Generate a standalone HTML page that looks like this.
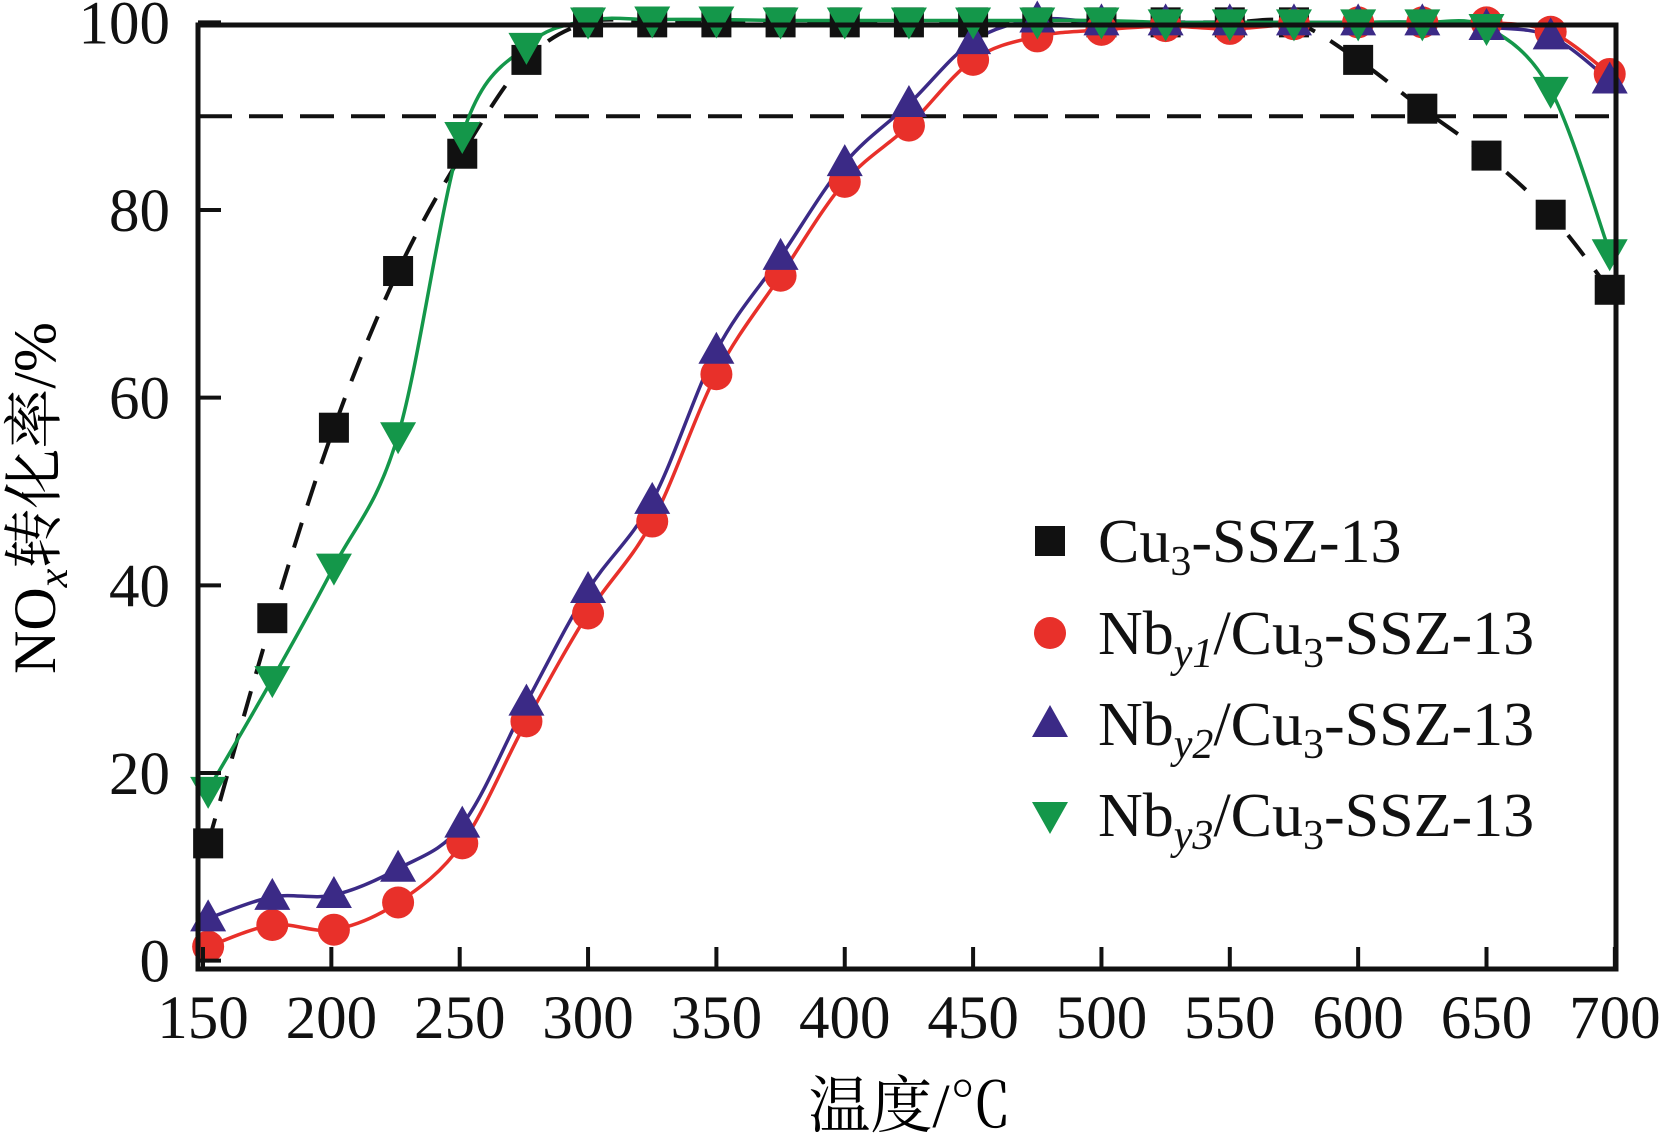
<!DOCTYPE html>
<html><head><meta charset="utf-8">
<style>
html,body{margin:0;padding:0;background:#fff;}
svg{display:block;font-family:"Liberation Serif","Noto Serif CJK SC",serif;}
</style></head>
<body>
<svg id="chart" width="1663" height="1148" viewBox="0 0 1663 1148" xmlns="http://www.w3.org/2000/svg">
<g id="plot"></g>
<g id="axes"></g>
<text x="910" y="1127" font-size="62" text-anchor="middle" font-family="'Liberation Serif','Noto Serif CJK SC',serif">温度/<tspan font-family="'Noto Serif CJK SC',serif">℃</tspan></text>
<text transform="translate(55,498) rotate(-90)" font-size="60" text-anchor="middle">NO<tspan font-style="italic" font-size="42" dy="12">x</tspan><tspan dy="-12">转化率/%</tspan></text>
<g id="legend"></g>
</svg>
<script>
const temps = [152,177,201,226,251,276,300,325,350,375,400,425,450,475,500,525,550,575,600,625,650,675,698];
const cu3 = [12.5,36.5,56.8,73.5,86,96,100,100,100,100,100,100,100,100,100,100,100,100,96,90.8,85.8,79.5,71.5];
const nb1 = [1.5,3.8,3.3,6.2,12.5,25.5,37,46.8,62.5,73,83,89,96,98.5,99.2,99.6,99.3,99.8,100,100,100,99,94.5];
const nb2 = [4.5,6.8,7,9.8,14.5,27.5,39.5,49,65,75,85,91.3,98,100.3,100,100,100,100,100,100,99.5,98.5,93.8];
const nb3 = [18.2,30,42,56,88,97.5,100.2,100.3,100.3,100.2,100.2,100.2,100.2,100.2,100.2,100,100,100,100,100,99.5,92.8,75.5];
const xTicks = [150,200,250,300,350,400,450,500,550,600,650,700];
const yTicks = [0,20,40,60,80,100];
const refLine = [90];
const legendLabels = [["Cu","3","-SSZ-13"],["Nb","y1","/Cu","3","-SSZ-13"],["Nb","y2","/Cu","3","-SSZ-13"],["Nb","y3","/Cu","3","-SSZ-13"]];

const NS="http://www.w3.org/2000/svg";
const X = v => 203 + (v-150)*2.567;
const Y = v => 773 - (v-20)*9.383;
const L=198,R=1616,T=25,B=969;
function mk(tag,attrs,parent){const e=document.createElementNS(NS,tag);for(const k in attrs)e.setAttribute(k,attrs[k]);parent.appendChild(e);return e;}
const plot=document.getElementById('plot'),axes=document.getElementById('axes'),legend=document.getElementById('legend');

function smooth(xs,ys){
  const p=xs.map((x,i)=>[X(x),Y(ys[i])]);
  let d=`M${p[0][0]},${p[0][1]}`;
  for(let i=0;i<p.length-1;i++){
    const p0=p[i-1]||p[i],p1=p[i],p2=p[i+1],p3=p[i+2]||p[i+1];
    const c1=[p1[0]+(p2[0]-p0[0])/6,p1[1]+(p2[1]-p0[1])/6];
    const c2=[p2[0]-(p3[0]-p1[0])/6,p2[1]-(p3[1]-p1[1])/6];
    d+=` C${c1[0]},${c1[1]} ${c2[0]},${c2[1]} ${p2[0]},${p2[1]}`;
  }
  return d;
}
function marker(type,cx,cy,color,parent){
  let e;
  if(type==='square'){e=mk('rect',{x:cx-15,y:cy-15,width:30,height:30,fill:color},parent);}
  else if(type==='circle'){e=mk('circle',{cx:cx,cy:cy,r:16,fill:color},parent);}
  else if(type==='up'){e=mk('polygon',{points:`${cx},${cy-19} ${cx+18},${cy+13} ${cx-18},${cy+13}`,fill:color},parent);}
  else {e=mk('polygon',{points:`${cx-18},${cy-13} ${cx+18},${cy-13} ${cx},${cy+19}`,fill:color},parent);}
  return e;
}
refLine.forEach(v=>{
  const ln=mk('line',{x1:L,x2:R,y1:Y(v),y2:Y(v),stroke:'#111','stroke-width':4,'stroke-dasharray':'34 17'},plot);
  
  
});
const series=[
  {name:'cu3',vals:cu3,color:'#111',m:'square',dash:'26 18'},
  {name:'nb-y1',vals:nb1,color:'#e8302a',m:'circle'},
  {name:'nb-y2',vals:nb2,color:'#3b2a86',m:'up'},
  {name:'nb-y3',vals:nb3,color:'#14974a',m:'down'},
];
series.forEach(s=>{
  const a={d:smooth(temps,s.vals),fill:'none',stroke:s.color,'stroke-width':s.m==='square'?4:3.5};
  if(s.dash)a['stroke-dasharray']=s.dash;
  const p=mk('path',a,plot);
  
  
});
series.forEach(s=>{
  const g=mk('g',{},plot);
  
  
  s.vals.forEach((v,i)=>{
    const e=marker(s.m,X(temps[i]),Y(v),s.color,g);
    
    
  });
});
const fr=mk('rect',{x:L,y:T,width:R-L,height:B-T,fill:'none',stroke:'#111','stroke-width':5},axes);


xTicks.forEach(v=>{
  const t=mk('line',{x1:X(v),x2:X(v),y1:B,y2:B-22,stroke:'#111','stroke-width':4},axes);
  
  
  const tx=mk('text',{x:X(v),y:1038,'font-size':61,'text-anchor':'middle',fill:'#111'},axes);
  tx.textContent=v;
  
  
});
yTicks.forEach(v=>{
  const t=mk('line',{x1:L,x2:L+23,y1:Y(v),y2:Y(v),stroke:'#111','stroke-width':4},axes);
  
  
  const tx=mk('text',{x:170,y:Y(v)+21,'font-size':61,'text-anchor':'end',fill:'#111'},axes);
  tx.textContent=v;
  
  
});
const ly=[541,633,724,815];
series.forEach((s,i)=>{
  const g=mk('g',{},legend);
  
  
  marker(s.m,1050,ly[i],s.color,g);
  const t=mk('text',{x:1098,y:ly[i]+21,'font-size':62,fill:'#111'},g);
  const parts=legendLabels[i];
  parts.forEach((p,j)=>{
    const ts=mk('tspan',{},t);
    const isSub=(j%2===1);
    if(isSub){ts.setAttribute('font-size','42');ts.setAttribute('dy','13');if(p[0]==='y')ts.setAttribute('font-style','italic');}
    else if(j>0){ts.setAttribute('dy','-13');}
    ts.textContent=p;
  });
});
</script>
</body></html>
